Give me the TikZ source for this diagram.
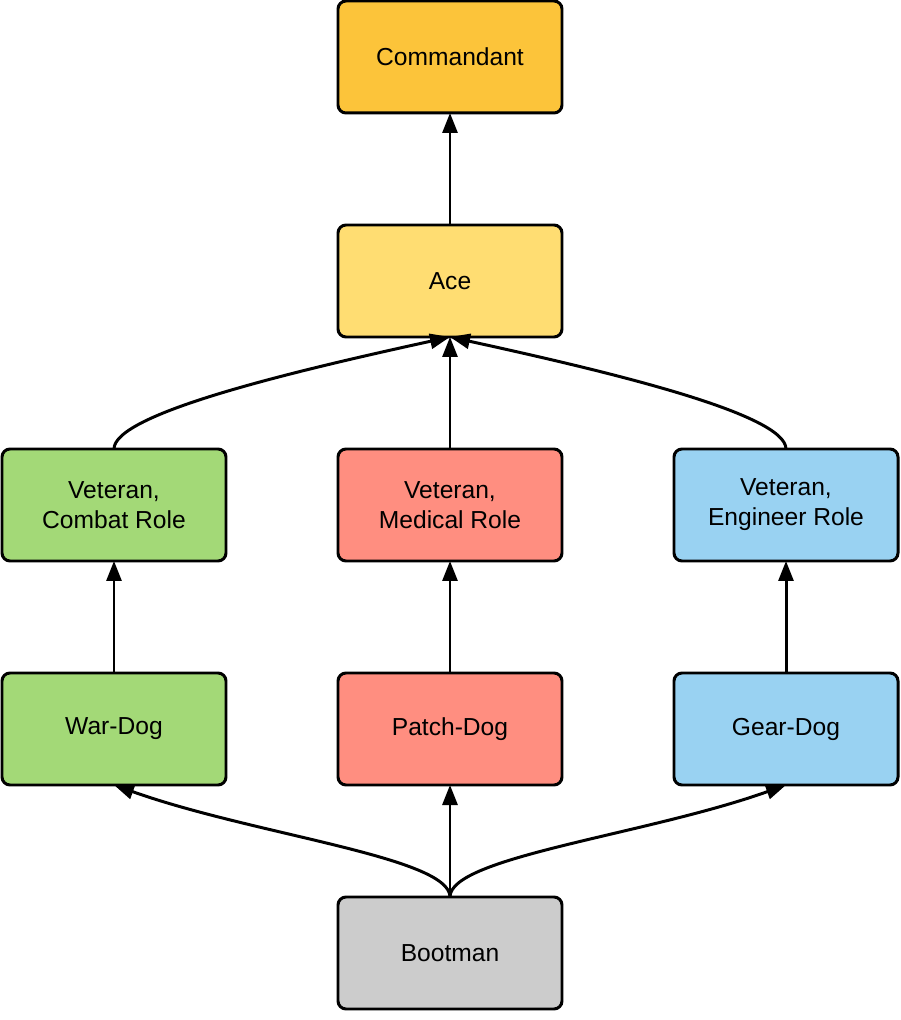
\documentclass[tikz,border=0pt]{standalone}
\usepackage{fontspec}
\setmainfont{Liberation Sans}
\usetikzlibrary{arrows.meta,positioning}

\definecolor{cmdorange}{RGB}{252,196,58}
\definecolor{aceyellow}{RGB}{255,221,114}
\definecolor{combatgreen}{RGB}{163,217,119}
\definecolor{medicalred}{RGB}{255,142,128}
\definecolor{engineerblue}{RGB}{153,210,242}
\definecolor{bootgrey}{RGB}{204,204,204}

\begin{document}
\begin{tikzpicture}[
    node distance=2.24cm and 2.24cm,
    rank/.style={rectangle, draw, line width=1.7pt, rounded corners=0.16cm, minimum width=4.48cm, minimum height=2.24cm, outer sep=0pt, align=center, font=\fontsize{14}{17}\selectfont},
    arrow/.style={-{Triangle[length=0.4cm, width=0.3cm]}, line width=1.7pt}
]
    \useasboundingbox (0,0) rectangle (18,20.4);

    % Top ranks
    \node[rank, fill=cmdorange] (cmd) at (9,19.26) {Commandant};
    \node[rank, fill=aceyellow, below=of cmd] (ace) {Ace};

    % Veterans
    \node[rank, fill=medicalred, below=of ace] (vetmed) {Veteran,\\Medical Role};
    \node[rank, fill=combatgreen, left=of vetmed] (vetcom) {Veteran,\\Combat Role};
    \node[rank, fill=engineerblue, right=of vetmed] (veteng) {Veteran,\\Engineer Role};

    % Dogs
    \node[rank, fill=medicalred, below=of vetmed] (patch) {Patch-Dog};
    \node[rank, fill=combatgreen, below=of vetcom] (war) {War-Dog};
    \node[rank, fill=engineerblue, below=of veteng] (gear) {Gear-Dog};

    % Entry rank
    \node[rank, fill=bootgrey, below=of patch] (boot) {Bootman};

    % Arrows
    \draw[arrow] (ace) -- (cmd);
    \draw[arrow] (vetmed) -- (ace);
    \draw[arrow] (vetcom.north) .. controls +(0,0.7) and +(-3.2,-0.7) .. (ace.south);
    \draw[arrow] (veteng.north) .. controls +(0,0.7) and +(3.2,-0.7) .. (ace.south);
    \draw[arrow] (war) -- (vetcom);
    \draw[arrow] (patch) -- (vetmed);
    \draw[arrow] (gear) -- (veteng);
    \draw[arrow] (boot) -- (patch);
    \draw[arrow] (boot.north) .. controls +(0,0.8) and +(2.8,-1.0) .. (war.south);
    \draw[arrow] (boot.north) .. controls +(0,0.8) and +(-2.8,-1.0) .. (gear.south);
\end{tikzpicture}
\end{document}
